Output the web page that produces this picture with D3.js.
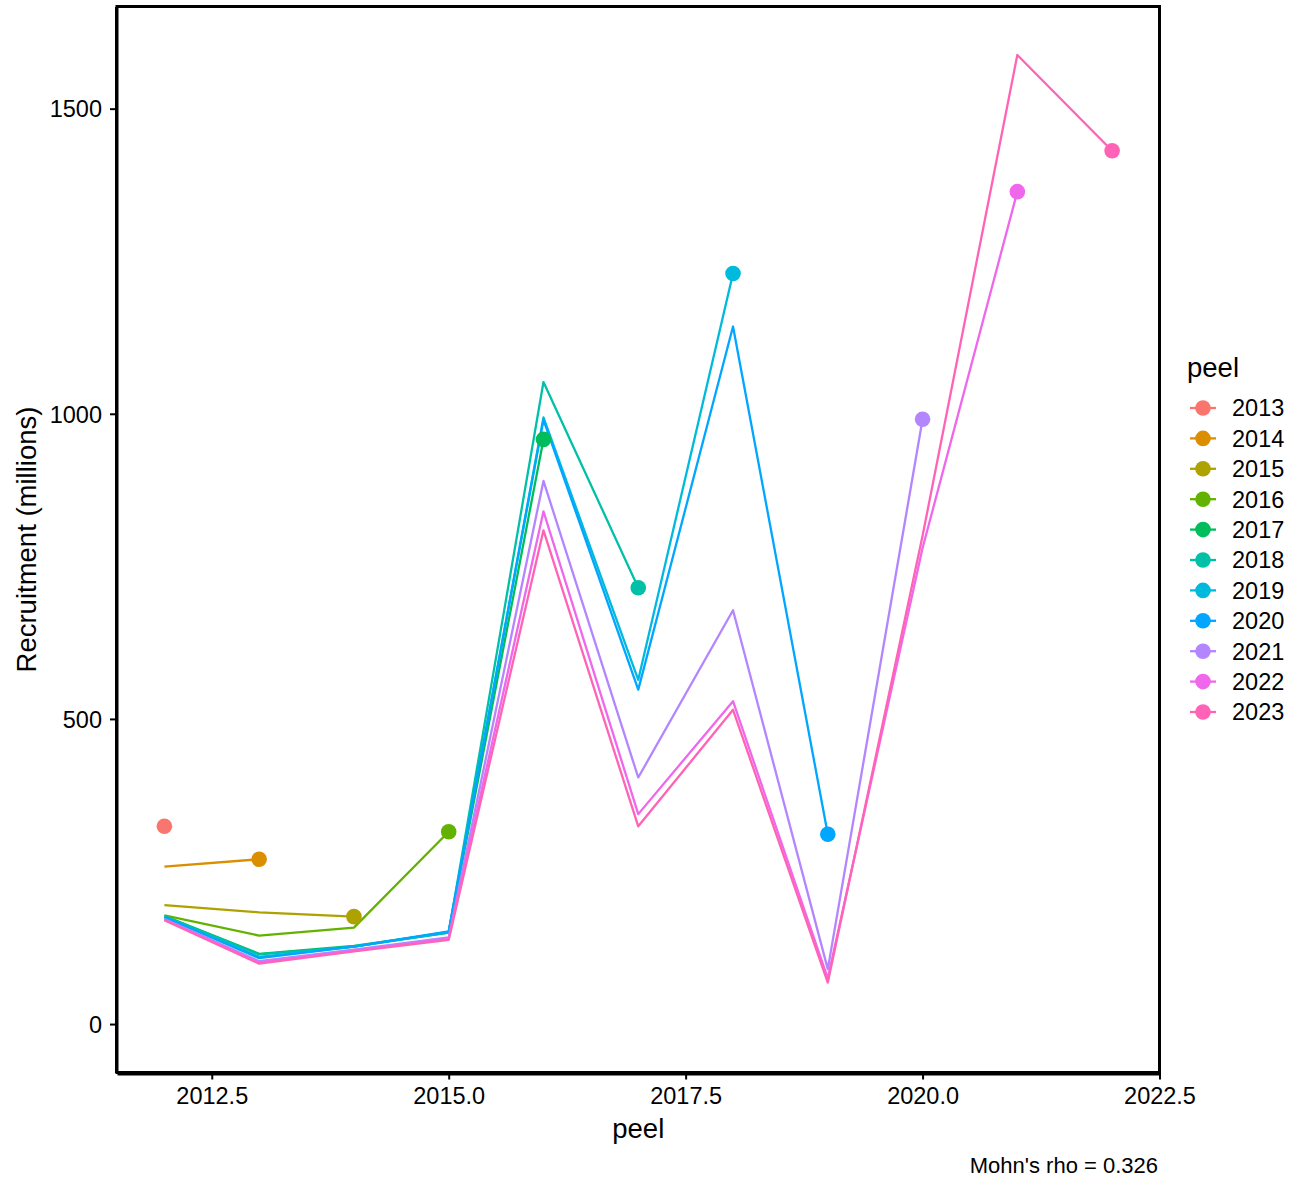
<!DOCTYPE html>
<html>
<head>
<meta charset="utf-8">
<script src="https://cdn.jsdelivr.net/npm/d3@7"></script>
<style>
  html, body { margin: 0; padding: 0; background: #fff; }
  svg { display: block; font-family: "Liberation Sans", Arial, sans-serif; }
</style>
</head>
<body>
<svg id="chart" width="1302" height="1183"></svg>
<script>
// Assessment years (x) and retrospective peels
const years = [2012, 2013, 2014, 2015, 2016, 2017, 2018, 2019, 2020, 2021, 2022];
const peels = ["2013", "2014", "2015", "2016", "2017", "2018", "2019", "2020", "2021", "2022", "2023"];
const colors = ["#F8766D", "#DB8E00", "#AEA200", "#64B200", "#00BD5C", "#00C1A7", "#00BADE", "#00A6FF", "#B385FF", "#EF67EB", "#FF63B6"];

// Recruitment (millions) for each peel, starting in 2012
const peel2013 = [324];
const peel2014 = [258, 270];
const peel2015 = [195, 183, 176];
const peel2016 = [178, 145, 158, 315];
const peel2017 = [177, 115, 128, 150, 958];
const peel2018 = [177, 114, 127, 150, 1052, 715];
const peel2019 = [175, 110, 127, 151, 994, 564, 1230];
const peel2020 = [175, 108, 127, 152, 990, 548, 1143, 311];
const peel2021 = [172, 103, 122, 142, 890, 404, 678, 90, 991];
const peel2022 = [171, 101, 120, 140, 840, 344, 529, 75, 780, 1364];
const peel2023 = [170, 99, 119, 138, 809, 324, 515, 68, 800, 1588, 1431];
const seriesValues = [peel2013, peel2014, peel2015, peel2016, peel2017, peel2018, peel2019, peel2020, peel2021, peel2022, peel2023];

const xTicks = [2012.5, 2015.0, 2017.5, 2020.0, 2022.5];
const yTicks = [0, 500, 1000, 1500];
const caption = "Mohn's rho = 0.326";

const series = peels.map((p, i) => ({
  peel: p,
  color: colors[i],
  values: seriesValues[i].map((v, j) => ({ x: years[j], y: v }))
}));

const svg = d3.select("#chart");
const panel = { left: 117, right: 1159.5, top: 6.5, bottom: 1072.5 };

const allY = seriesValues.flat();
const yMax = d3.max(allY), yMin = Math.min(0, d3.min(allY));
const yPad = (yMax - yMin) * 0.05;
const xMin = d3.min(years), xMax = d3.max(years);
const xPad = (xMax - xMin) * 0.05;

const x = d3.scaleLinear().domain([xMin - xPad, xMax + xPad]).range([panel.left, panel.right]);
const y = d3.scaleLinear().domain([yMin - yPad, yMax + yPad]).range([panel.bottom, panel.top]);

// Lines
const line = d3.line().x(d => x(d.x)).y(d => y(d.y));
const g = svg.append("g");
g.selectAll("path.series")
  .data(series.filter(s => s.values.length > 1))
  .join("path")
  .attr("class", "series")
  .attr("d", d => line(d.values))
  .attr("fill", "none")
  .attr("stroke", d => d.color)
  .attr("stroke-width", 2.3)
  .attr("stroke-linejoin", "round");

// End points
g.selectAll("circle.end")
  .data(series)
  .join("circle")
  .attr("class", "end")
  .attr("cx", d => x(d.values[d.values.length - 1].x))
  .attr("cy", d => y(d.values[d.values.length - 1].y))
  .attr("r", 7.8)
  .attr("fill", d => d.color);

// Panel border
svg.append("rect")
  .attr("x", panel.left).attr("y", panel.top)
  .attr("width", panel.right - panel.left).attr("height", panel.bottom - panel.top)
  .attr("fill", "none").attr("stroke", "#000").attr("stroke-width", 3);

// Axes
const yAxis = d3.axisLeft(y).tickValues(yTicks).tickSize(6).tickSizeOuter(0).tickPadding(8).tickFormat(d3.format("d"));
const yG = svg.append("g").attr("transform", `translate(${panel.left - 1},0)`).call(yAxis);
const xAxis = d3.axisBottom(x).tickValues(xTicks).tickSize(6).tickSizeOuter(0).tickPadding(8).tickFormat(d3.format(".1f"));
const xG = svg.append("g").attr("transform", `translate(0,${panel.bottom + 1})`).call(xAxis);
[yG, xG].forEach(a => {
  a.select(".domain").attr("stroke", "#000").attr("stroke-width", 3);
  a.selectAll(".tick line").attr("stroke", "#000").attr("stroke-width", 2);
  a.selectAll(".tick text").attr("fill", "#000").style("font-size", "23.5px")
    .style("font-family", "'Liberation Sans', Arial, sans-serif");
});
yG.selectAll(".tick text").attr("dy", "0.35em");
xG.selectAll(".tick text").attr("dy", "0.72em");

// Axis titles
svg.append("text")
  .attr("x", (panel.left + panel.right) / 2).attr("y", 1138)
  .attr("text-anchor", "middle").style("font-size", "27.5px").text("peel");
svg.append("text")
  .attr("transform", `translate(36,${(panel.top + panel.bottom) / 2}) rotate(-90)`)
  .attr("text-anchor", "middle").style("font-size", "27.5px").text("Recruitment (millions)");

// Caption
svg.append("text")
  .attr("x", 1158).attr("y", 1173)
  .attr("text-anchor", "end").style("font-size", "22px").text(caption);

// Legend
const legend = svg.append("g").attr("transform", "translate(1187,0)");
legend.append("text").attr("x", 0).attr("y", 377).style("font-size", "27.5px").text("peel");
const items = legend.selectAll("g.item").data(series).join("g")
  .attr("class", "item")
  .attr("transform", (d, i) => `translate(0,${408 + i * 30.4})`);
items.append("line").attr("x1", 3).attr("x2", 29).attr("y1", 0).attr("y2", 0)
  .attr("stroke", d => d.color).attr("stroke-width", 2.3);
items.append("circle").attr("cx", 16).attr("cy", 0).attr("r", 7.8).attr("fill", d => d.color);
items.append("text").attr("x", 45).attr("y", 0).attr("dy", "0.36em")
  .style("font-size", "23.5px").text(d => d.peel);
</script>
</body>
</html>
